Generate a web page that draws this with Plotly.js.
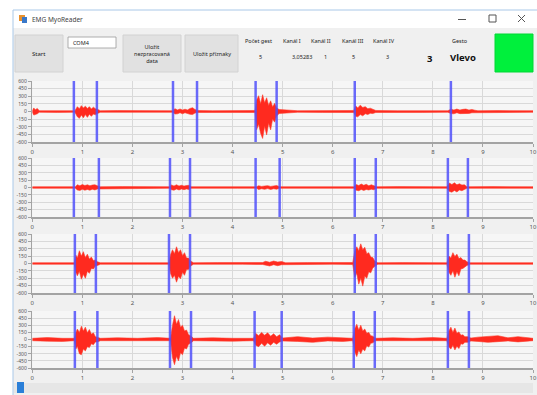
<!DOCTYPE html>
<html><head><meta charset="utf-8">
<script src="https://cdn.plot.ly/plotly-3.0.1.min.js"></script>
<style>html,body{margin:0;padding:0;background:#fff;overflow:hidden}#chart{width:537px;height:395px}</style>
</head><body><div id="chart"></div>
<script>
// ---------- data ----------
const xTicks = [0,1,2,3,4,5,6,7,8,9,10];
const yTicks = [-600,-450,-300,-150,0,150,300,450,600];
const yTickLabels = ['-600','-450','-300','-150','0','150','300','450','600'];

const ch1Time = [0,0.03,0.06,0.1,0.14,0.5,0.85,0.9,0.94,0.98,1.02,1.06,1.1,1.14,1.18,1.22,1.26,1.3,1.36,1.7,2.1,2.5,2.8,2.85,2.9,2.95,3.0,3.05,3.1,3.15,3.2,3.25,3.3,3.6,4.0,4.45,4.48,4.52,4.56,4.6,4.64,4.68,4.72,4.76,4.8,4.84,4.88,4.93,5.3,5.8,6.2,6.42,6.46,6.5,6.55,6.6,6.65,6.7,6.75,6.8,6.86,7.3,7.8,8.3,8.36,8.42,8.48,8.54,8.6,8.66,8.72,8.78,8.84,8.9,9.3,9.7,10];
const ch1Upper = [15,70,35,60,15,18,15, 95,55,115,70,105,60,95,50,85,55,45, 15,18,15,18,15, 55,30,50,28,45,30,60,75,40,20, 15,18,20, 220,310,150,330,170,270,120,210,90,160,70,40, 15,18,15,20, 110,70,125,80,95,55,65,40,20, 15,18,15, 45,30,48,28,42,48,28,40,25,15, 18,15,15];
const ch1Lower = [-15,-70,-55,-45,-15,-18,-15, -105,-135,-70,-125,-60,-115,-55,-95,-50,-65,-40, -15,-18,-15,-18,-15, -50,-45,-25,-45,-25,-40,-55,-60,-30,-20, -15,-18,-20, -360,-250,-430,-530,-290,-460,-230,-360,-150,-210,-90,-40, -15,-18,-15,-20, -95,-105,-60,-85,-45,-60,-35,-40,-20, -15,-18,-15, -40,-45,-25,-42,-28,-40,-38,-25,-25,-15, -18,-15,-15];

const ch2Time = [0,0.5,0.86,0.9,0.95,1.0,1.05,1.1,1.15,1.2,1.25,1.3,1.36,1.8,2.3,2.74,2.78,2.83,2.88,2.93,2.98,3.03,3.08,3.13,3.18,3.6,4.1,4.48,4.52,4.58,4.64,4.7,4.76,4.82,4.88,4.94,5.4,5.9,6.42,6.47,6.52,6.57,6.62,6.67,6.72,6.77,6.82,6.88,7.3,7.8,8.28,8.33,8.38,8.43,8.48,8.53,8.58,8.63,8.68,9.2,9.6,10];
const ch2Upper = [15,18, 15,55,35,60,40,55,35,50,55,35,15, 18,15, 15,50,30,55,30,45,28,40,45,15, 18,15, 15,35,22,30,38,22,35,40,15, 18,15, 15,60,40,70,45,65,35,55,40,15, 18,15, 15,90,60,95,55,75,50,55,15, 18,15,15];
const ch2Lower = [-15,-18, -15,-50,-60,-35,-55,-40,-55,-35,-50,-30,-15, -18,-15, -15,-45,-55,-30,-50,-30,-45,-28,-40,-15, -18,-15, -15,-40,-25,-38,-22,-40,-25,-35,-15, -18,-15, -15,-55,-65,-40,-60,-40,-50,-35,-45,-15, -18,-15, -15,-80,-95,-60,-90,-50,-65,-40,-15, -18,-15,-15];

const ch3Time = [0,0.5,0.84,0.87,0.9,0.94,0.98,1.02,1.06,1.1,1.14,1.18,1.22,1.26,1.3,1.36,1.8,2.3,2.73,2.76,2.8,2.84,2.88,2.92,2.96,3.0,3.04,3.08,3.12,3.16,3.22,3.7,4.2,4.6,4.66,4.74,4.82,4.9,4.98,5.06,5.5,6.0,6.4,6.44,6.48,6.52,6.56,6.6,6.64,6.68,6.72,6.76,6.8,6.84,6.9,7.4,7.9,8.28,8.32,8.36,8.4,8.44,8.48,8.52,8.56,8.6,8.64,8.68,8.74,9.2,9.6,10];
const ch3Upper = [15,18, 15,170,110,260,150,240,120,190,90,130,60,70,35,15, 18,15, 15,180,280,200,340,220,280,160,220,110,110,50,15, 18,15, 20,45,25,50,30,40,15, 18,15, 20,250,340,260,400,280,330,200,220,130,120,50,15, 18,15, 15,150,110,220,140,190,100,120,70,70,35,15, 18,15,15];
const ch3Lower = [-15,-18, -15,-180,-250,-160,-320,-220,-300,-160,-200,-100,-110,-50,-40,-15, -18,-15, -15,-200,-300,-240,-380,-260,-310,-180,-240,-120,-120,-50,-15, -18,-15, -20,-40,-50,-25,-45,-25,-15, -18,-15, -20,-280,-200,-420,-300,-460,-260,-300,-170,-190,-90,-60,-15, -18,-15, -15,-180,-240,-150,-280,-170,-250,-110,-100,-70,-40,-15, -18,-15,-15];

const ch4Time = [0,0.3,0.6,0.84,0.87,0.9,0.94,0.98,1.02,1.06,1.1,1.14,1.18,1.22,1.26,1.3,1.36,1.7,2.1,2.5,2.76,2.8,2.84,2.88,2.92,2.96,3.0,3.04,3.08,3.12,3.16,3.22,3.6,4.0,4.42,4.46,4.52,4.58,4.64,4.7,4.76,4.82,4.88,4.94,5.0,5.3,5.6,5.9,6.2,6.4,6.44,6.48,6.52,6.56,6.6,6.64,6.68,6.72,6.76,6.8,6.86,7.2,7.6,8.0,8.28,8.32,8.36,8.4,8.44,8.48,8.52,8.56,8.6,8.64,8.7,8.76,8.9,9.1,9.3,9.5,9.7,10];
const ch4Upper = [25,40,25, 25,150,220,150,280,180,260,140,210,110,140,60,50,25, 35,25,40, 25,300,500,320,420,260,300,180,200,100,80,25, 35,25, 25,130,80,150,90,140,70,120,60,100,30, 60,30,50,35, 25,220,320,200,300,180,220,130,150,80,70,25, 35,25,40, 25,180,260,150,240,130,160,90,100,60,60,30, 50,70,80,35,60,25];
const ch4Lower = [-25,-35,-40, -25,-200,-140,-300,-320,-200,-240,-150,-170,-90,-110,-50,-50,-25, -30,-40,-25, -25,-380,-530,-350,-450,-280,-320,-180,-200,-100,-80,-25, -30,-35, -25,-120,-150,-80,-140,-70,-120,-60,-100,-50,-30, -40,-60,-30,-40, -25,-260,-360,-220,-300,-200,-240,-130,-160,-80,-70,-25, -30,-35,-25, -25,-160,-200,-120,-220,-140,-190,-90,-100,-60,-60,-30, -40,-60,-45,-30,-50,-25];

const ch1Markers = [0.83,1.29,2.81,3.29,4.46,4.88,6.44,8.36];
const ch2Markers = [0.83,1.33,2.75,3.15,4.46,4.94,6.44,6.86,8.30,8.70];
const ch3Markers = [0.85,1.27,2.73,3.15,6.44,6.86,8.30,8.72];
const ch4Markers = [0.85,1.30,2.75,3.17,4.44,4.98,6.42,6.84,8.30,8.72];

const windowTitle = 'EMG MyoReader';
const portName = 'COM4';
const headerLabels = ['Počet gest','Kanál I','Kanál II','Kanál III','Kanál IV'];
const headerValues = ['5','3,05283','1','5','3'];
const gestureLabel = 'Gesto';
const gestureNumber = '3';
const gestureName = 'Vlevo';

// ---------- layout helpers ----------
const W = 537, H = 395;
const px = x => x / W;
const py = y => 1 - y / H;
const FONT = 'Noto Sans, DejaVu Sans, sans-serif';

const channels = [
  {t: ch1Time, up: ch1Upper, lo: ch1Lower, m: ch1Markers},
  {t: ch2Time, up: ch2Upper, lo: ch2Lower, m: ch2Markers},
  {t: ch3Time, up: ch3Upper, lo: ch3Lower, m: ch3Markers},
  {t: ch4Time, up: ch4Upper, lo: ch4Lower, m: ch4Markers}
];
const panelPx = [[81,142],[158,217],[234,293],[311,368]];
const plotLeft = 32.3, plotRight = 533;

const traces = [];
const layout = {
  width: W, height: H,
  margin: {l:0, r:0, t:0, b:0},
  paper_bgcolor: '#f0f0f0',
  plot_bgcolor: '#f6f6f6',
  showlegend: false,
  hovermode: false,
  font: {family: FONT, color: '#333'},
  shapes: [], annotations: []
};

channels.forEach((c, i) => {
  const k = i + 1;
  const xa = 'x' + (k === 1 ? '' : k), ya = 'y' + (k === 1 ? '' : k);
  traces.push({
    type: 'scatter', mode: 'lines', xaxis: xa, yaxis: ya,
    x: c.t.concat(c.t.slice().reverse()),
    y: c.up.concat(c.lo.slice().reverse()),
    fill: 'toself', fillcolor: '#ff2a1f',
    line: {color: '#ff3a2a', width: 0.6}
  });
  const mx = [], my = [];
  c.m.forEach(v => { mx.push(v, v, null); my.push(-600, 600, null); });
  traces.push({
    type: 'scatter', mode: 'lines', xaxis: xa, yaxis: ya,
    x: mx, y: my, line: {color: 'rgba(80,80,250,0.85)', width: 2.5}
  });
  const [top, bot] = panelPx[i];
  const axCommon = {
    showgrid: true, gridcolor: '#d9d9d9', gridwidth: 1,
    showline: true, linecolor: '#a3a3a3', linewidth: 1.5,
    ticks: 'outside', ticklen: 3, tickcolor: '#a3a3a3', tickwidth: 1,
    zeroline: false, fixedrange: true
  };
  layout['xaxis' + (k === 1 ? '' : k)] = Object.assign({}, axCommon, {
    domain: [px(plotLeft), px(plotRight)], anchor: ya, range: [0, 10],
    tickmode: 'array', tickvals: xTicks,
    tickfont: {size: 6, color: '#555', family: FONT}
  });
  layout['yaxis' + (k === 1 ? '' : k)] = Object.assign({}, axCommon, {
    domain: [py(bot), py(top)], anchor: xa, range: [-600, 600],
    tickmode: 'array', tickvals: yTicks, ticktext: yTickLabels,
    tickfont: {size: 5, color: '#555', family: FONT}
  });
});

// ---------- window chrome ----------
const S = layout.shapes, A = layout.annotations;
function rect(x0, y0, x1, y1, fill, line, lw) {
  S.push({type: 'rect', xref: 'paper', yref: 'paper', x0: px(x0), x1: px(x1), y0: py(y1), y1: py(y0),
    fillcolor: fill, line: {color: line || fill, width: lw === undefined ? 0 : lw}, layer: 'above'});
}
function seg(x0, y0, x1, y1, color, w) {
  S.push({type: 'line', xref: 'paper', yref: 'paper', x0: px(x0), x1: px(x1), y0: py(y0), y1: py(y1),
    line: {color: color, width: w}, layer: 'above'});
}
function text(t, x, y, size, opts) {
  A.push(Object.assign({text: t, xref: 'paper', yref: 'paper', x: px(x), y: py(y), showarrow: false,
    xanchor: 'center', yanchor: 'middle', font: {size: size, color: '#222', family: FONT}}, opts || {}));
}

// outside the window
rect(0, 0, W, 10, '#ffffff');
rect(0, 0, 13, H, '#ffffff');
// title bar
rect(13, 10, W, 28, '#ffffff');
seg(13, 10, W, 10, '#a9c8e8', 1);
seg(13, 10, 13, H, '#a9c8e8', 1);
// icon
rect(19, 15, 25, 21, '#e8902c');
rect(22, 17, 27, 23, '#3a78c8');
text(windowTitle, 30, 19, 6.5, {xanchor: 'left', font: {size: 6.5, color: '#444', family: FONT}});
// window buttons
seg(458, 19.5, 466, 19.5, '#555', 1);
rect(489, 15, 496, 22, 'rgba(0,0,0,0)', '#555', 1);
seg(518, 15, 525, 22, '#555', 1);
seg(518, 22, 525, 15, '#555', 1);

// toolbar buttons
rect(15, 35, 63, 72, '#e1e1e1', '#d2d2d2', 1);
text('Start', 39, 54, 6);
rect(68, 37, 116, 48, '#ffffff', '#9a9a9a', 0.8);
text(portName, 71, 42.5, 5.5, {xanchor: 'left'});
rect(123, 35, 181, 72, '#e1e1e1', '#d2d2d2', 1);
text('Uložit<br>nezpracovaná<br>data', 152, 53.5, 5.5);
rect(185, 35, 238, 72, '#e1e1e1', '#d2d2d2', 1);
text('Uložit příznaky', 211.5, 54, 5.5);

// labels & values
const labelX = [258, 292, 321, 353, 384];
headerLabels.forEach((l, i) => text(l, labelX[i], 41, 5.5));
const valueX = [260, 302, 325, 353, 387];
headerValues.forEach((v, i) => text(v, valueX[i], 57, 5.5));
text(gestureLabel, 460, 41, 5.5);
text(gestureNumber, 430, 58, 9.5, {font: {size: 9.5, color: '#111', family: FONT, weight: 'bold'}});
text(gestureName, 463, 57, 9.5, {font: {size: 9.5, color: '#111', family: FONT, weight: 'bold'}});
rect(495, 34, 533, 72, '#00f03c', '#00d835', 1);

// scrollbar
rect(14, 383, 533, 393, '#e6e6e6');
rect(17, 382, 24, 393, '#2a7fd8');

Plotly.newPlot('chart', traces, layout, {staticPlot: true, displayModeBar: false});
</script>
</body></html>
